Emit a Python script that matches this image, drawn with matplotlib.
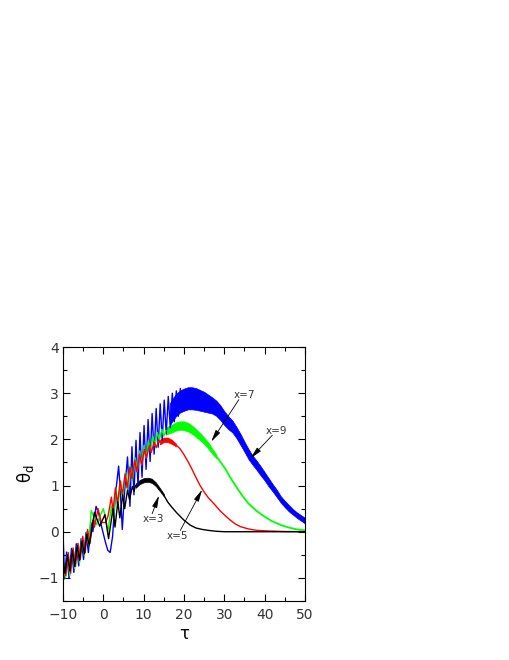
import matplotlib
matplotlib.use('Agg')
import matplotlib.pyplot as plt
from matplotlib.ticker import MultipleLocator

# x=9 (blue): oscillating part, then a dense band
tau_b = [-10.0, -9.6, -9.1, -8.5, -7.9, -7.3, -6.7, -6.1, -5.5, -4.9, -4.3, -3.7, -3.1, -2.6,
         -1.8, -1.2, -0.4, 0.5, 1.1, 1.7, 2.3, 3.0, 3.8, 4.2, 4.7, 5.3, 6.0, 6.6, 7.1, 7.6,
         8.1, 8.6, 9.1, 9.6, 10.1, 10.6, 11.1, 11.6, 12.1, 12.6, 13.1, 13.6, 14.1, 14.6,
         15.1, 15.6, 16.1, 16.6, 17.1, 17.6, 18.1, 18.6, 19.1]
th_b = [0.0, -1.02, -0.44, -1.0, -0.36, -0.88, -0.26, -0.74, -0.15, -0.6, -0.02, -0.45, 0.2, 0.0,
        0.55, 0.42, 0.1, -0.22, -0.4, -0.45, -0.1, 0.8, 1.42, 0.9, 0.05, 0.9, 1.62, 0.55, 1.84, 0.8,
        1.98, 1.0, 2.15, 1.18, 2.3, 1.35, 2.43, 1.52, 2.56, 1.68, 2.67, 1.83, 2.77, 1.98,
        2.85, 2.12, 2.93, 2.25, 3.0, 2.38, 3.05, 2.5, 3.1]
band_tau_b = [16.5, 17, 18, 19, 20, 21, 22, 23, 24, 25, 26, 27, 28, 29, 30, 31, 32, 33, 34, 35,
              36, 37, 38, 39, 40, 41, 42, 43, 44, 45, 46, 47, 48, 49, 50]
band_lo_b = [2.30, 2.38, 2.50, 2.58, 2.62, 2.65, 2.65, 2.64, 2.62, 2.60, 2.58, 2.56, 2.51, 2.42,
             2.31, 2.22, 2.15, 2.03, 1.88, 1.73, 1.57, 1.45, 1.34, 1.22, 1.11, 0.98, 0.87, 0.75,
             0.63, 0.53, 0.44, 0.37, 0.30, 0.24, 0.18]
band_hi_b = [2.78, 2.86, 2.98, 3.06, 3.10, 3.13, 3.13, 3.11, 3.07, 3.03, 2.97, 2.91, 2.84, 2.74,
             2.61, 2.50, 2.41, 2.27, 2.12, 1.95, 1.79, 1.65, 1.54, 1.42, 1.29, 1.16, 1.03, 0.91,
             0.77, 0.67, 0.58, 0.49, 0.42, 0.36, 0.30]

# x=7 (green)
tau_g = [-10.0, -9.4, -8.9, -8.3, -7.7, -7.1, -6.5, -5.9, -5.3, -4.7, -4.1, -3.6, -3.0, -2.35,
         -1.7, -0.85, 0.0, 0.6, 1.15, 2.0, 2.5, 3.1, 3.6, 4.3, 4.8, 5.5, 6.0, 6.7, 7.2, 7.9,
         8.4, 9.0, 9.5, 10.1, 10.6, 11.2, 11.7, 12.3, 12.8, 13.4, 13.9, 14.5, 15.0, 15.5]
th_g = [-0.6, -1.0, -0.5, -0.95, -0.4, -0.8, -0.3, -0.68, -0.15, -0.52, 0.0, -0.3, 0.46, 0.32,
        0.15, 0.33, 0.5, 0.28, 0.0, 0.55, 0.3, 0.95, 0.5, 1.1, 0.7, 1.3, 0.9, 1.45, 1.1, 1.6,
        1.3, 1.75, 1.45, 1.87, 1.6, 1.97, 1.75, 2.07, 1.87, 2.15, 1.98, 2.22, 2.07, 2.19]
band_tau_g = [15.5, 16, 17, 18, 19, 20, 21, 22, 23, 24, 25, 26, 27, 28]
band_lo_g = [2.10, 2.12, 2.15, 2.19, 2.21, 2.20, 2.17, 2.12, 2.05, 1.98, 1.90, 1.80, 1.69, 1.59]
band_hi_g = [2.26, 2.28, 2.32, 2.37, 2.39, 2.39, 2.36, 2.30, 2.22, 2.14, 2.04, 1.94, 1.80, 1.68]
tail_tau_g = [28, 29, 30.2, 31.5, 33.5, 35, 36, 38, 40.1, 42, 44.2, 46, 48, 50]
tail_th_g = [1.63, 1.52, 1.37, 1.17, 0.9, 0.72, 0.61, 0.45, 0.32, 0.22, 0.14, 0.09, 0.05, 0.03]

# x=5 (red)
tau_r = [-10.0, -9.3, -8.7, -8.1, -7.5, -6.9, -6.3, -5.7, -5.1, -4.5, -3.9, -3.3, -2.6, -2.2,
         -1.3, -0.5, 0.6, 1.2, 2.0, 2.4, 3.0, 3.5, 4.2, 4.7, 5.4, 5.9, 6.6, 7.1, 7.8, 8.3,
         9.0, 9.5, 10.2, 10.7, 11.4, 11.9, 12.6, 13.1, 13.8, 14.0]
th_r = [-0.7, -0.95, -0.45, -0.9, -0.35, -0.75, -0.25, -0.6, -0.1, -0.45, 0.05, -0.25, 0.25, 0.1,
        0.5, 0.2, 0.2, 0.35, 0.75, 0.45, 0.95, 0.6, 1.1, 0.8, 1.25, 0.95, 1.4, 1.15, 1.55, 1.3,
        1.68, 1.45, 1.78, 1.6, 1.87, 1.72, 1.94, 1.82, 1.98, 1.94]
band_tau_r = [14, 15, 16, 17, 18]
band_lo_r = [1.89, 1.94, 1.94, 1.90, 1.85]
band_hi_r = [1.99, 2.04, 2.04, 1.99, 1.91]
tail_tau_r = [18, 19, 20, 21, 22, 23, 24, 25, 26, 27.7, 29, 30.2, 31.5, 32.7, 34, 36, 38, 40, 45, 50]
tail_th_r = [1.88, 1.8, 1.67, 1.52, 1.35, 1.17, 1.0, 0.86, 0.74, 0.58, 0.45, 0.35, 0.25, 0.17,
             0.11, 0.06, 0.03, 0.02, 0.005, 0.0]

# x=3 (black)
tau_k = [-10.0, -9.5, -8.9, -8.3, -7.7, -7.1, -6.5, -5.9, -5.3, -4.7, -4.1, -3.5, -2.2, -0.9,
         0.4, 1.3, 2.4, 2.9, 3.6, 4.1, 4.8, 5.3, 6.0, 6.5, 7.2, 7.6, 8.0]
th_k = [-0.6, -0.9, -0.5, -0.85, -0.4, -0.75, -0.3, -0.62, -0.2, -0.48, -0.05, -0.3, 0.42, 0.12,
        0.37, -0.15, 0.5, 0.1, 0.65, 0.3, 0.8, 0.5, 0.9, 0.7, 0.98, 0.88, 1.0]
band_tau_k = [8, 9, 10, 11, 12, 13, 14, 15]
band_lo_k = [0.95, 1.03, 1.07, 1.08, 1.06, 0.99, 0.88, 0.77]
band_hi_k = [1.04, 1.12, 1.16, 1.17, 1.15, 1.07, 0.95, 0.82]
tail_tau_k = [15, 16, 17, 18.3, 20, 21.6, 23, 24.5, 26, 28, 30, 50]
tail_th_k = [0.79, 0.64, 0.53, 0.4, 0.25, 0.14, 0.08, 0.05, 0.03, 0.01, 0.0, 0.0]

# labels: text, text position, arrow start, arrow tip
labels = ['x=3', 'x=5', 'x=7', 'x=9']
label_xy = [(12.5, 0.27), (18.3, -0.09), (34.9, 2.96), (43.0, 2.19)]
arrow_from = [(12.1, 0.39), (19.1, 0.03), (33.6, 2.86), (41.9, 2.09)]
arrow_to = [(13.8, 0.78), (24.5, 0.91), (26.75, 1.95), (36.5, 1.59)]

fig = plt.figure(figsize=(5.1, 6.6), dpi=100)
ax = fig.add_axes([0.1235, 0.0894, 0.4745, 0.3848])

lw = 1.0
ax.plot(tau_b, th_b, color='#0000ff', lw=lw)
ax.fill_between(band_tau_b, band_lo_b, band_hi_b, color='#0000ff', lw=0.5)

ax.plot(tau_g, th_g, color='#00ff00', lw=lw)
ax.fill_between(band_tau_g, band_lo_g, band_hi_g, color='#00ff00', lw=0.5)
ax.plot(tail_tau_g, tail_th_g, color='#00ff00', lw=1.3)

ax.plot(tau_r, th_r, color='#ff0000', lw=lw)
ax.fill_between(band_tau_r, band_lo_r, band_hi_r, color='#ff0000', lw=0.5)
ax.plot(tail_tau_r, tail_th_r, color='#ff0000', lw=lw)

ax.plot(tau_k, th_k, color='black', lw=lw)
ax.fill_between(band_tau_k, band_lo_k, band_hi_k, color='black', lw=0.5)
ax.plot(tail_tau_k, tail_th_k, color='black', lw=lw)

for i, lab in enumerate(labels):
    ax.annotate('', xy=arrow_to[i], xytext=arrow_from[i],
                arrowprops=dict(arrowstyle='-|>,head_length=0.6,head_width=0.13',
                                color='black', lw=0.6, mutation_scale=12,
                                shrinkA=0, shrinkB=0))
    ax.text(label_xy[i][0], label_xy[i][1], lab, fontsize=7.5, color='#333333',
            ha='center', va='center')

ax.set_xlim(-10, 50)
ax.set_ylim(-1.5, 4)
ax.xaxis.set_major_locator(MultipleLocator(10))
ax.xaxis.set_minor_locator(MultipleLocator(5))
ax.yaxis.set_major_locator(MultipleLocator(1))
ax.yaxis.set_minor_locator(MultipleLocator(0.5))
ax.tick_params(which='both', direction='in', top=True, right=True, width=0.8,
               labelsize=10, labelcolor='#333333')
ax.tick_params(axis='x', pad=5)
ax.tick_params(axis='y', pad=3)
ax.tick_params(which='major', length=5)
ax.tick_params(which='minor', length=3)
for s in ax.spines.values():
    s.set_linewidth(0.8)

ax.set_xlabel('τ', fontsize=12, labelpad=2)
ax.set_ylabel('θ$_{\\mathrm{d}}$', fontsize=12, labelpad=2)

fig.savefig('out.png', dpi=100)
